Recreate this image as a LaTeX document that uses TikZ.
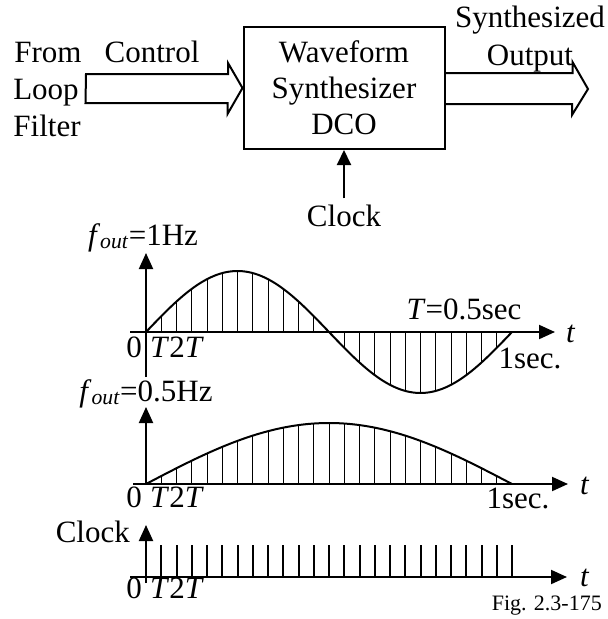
\documentclass[tikz,border=0pt]{standalone}
\usepackage{fontspec}
\setmainfont{Liberation Serif}
\usetikzlibrary{positioning,calc,arrows.meta}

\begin{document}
\begin{tikzpicture}[x=1pt,y=-1pt,
    every node/.style={font=\fontsize{31}{36}\selectfont,inner sep=1pt},
    block/.style={draw,line width=2pt,minimum width=201pt,minimum height=122pt,align=center},
    hollowarrow/.style={draw,line width=2pt,line join=miter},
    sigarrow/.style={line width=2pt,-{Triangle[length=15pt,width=14pt]}},
    axis/.style={line width=2pt,-{Triangle[length=16pt,width=14pt]}},
    wave/.style={line width=2pt},
    sampleline/.style={line width=1pt},
    pulse/.style={line width=2pt}]
    \useasboundingbox (0,0) rectangle (608,619);

    % block diagram
    \node[block] (dco) at (344,88) {Waveform\\Synthesizer\\DCO};
    \node[anchor=base] (from) at (48,62) {From};
    \node[anchor=base] (loop) at (46,99) {Loop};
    \node[anchor=base] (filter) at (47,136) {Filter};
    \node[anchor=base] (control) at (152,62) {Control};
    \node[anchor=base] (synth) at (530,27) {Synthesized};
    \node[anchor=base] (output) at (530,65) {Output};
    \node[anchor=base] (clk) at (344,226) {Clock};
    \coordinate (ctrltail) at (86,89);
    \coordinate (outtip) at (588,89);

    \draw[hollowarrow] (ctrltail) ++(0,-15) -- ++(142,0) -- ++(0,-11) -- (dco.west)
        -- ++(-15,26) -- ++(0,-11) -- ++(-142,0) -- cycle;
    \draw[hollowarrow] (dco.east) ++(0,-15) -- ++(127,0) -- ++(0,-11) -- (outtip)
        -- ++(-16,26) -- ++(0,-11) -- ++(-127,0);
    \draw[sigarrow] ([yshift=5pt]clk.north) -- (dco.south);

    % f_out = 1Hz
    \coordinate (o1) at (146,332);
    \node[anchor=base] (f1) at (143,245) {\textit{f}\textsubscript{\textit{out}}=1Hz};
    \draw[axis] ($(o1)+(0,45)$) -- ($(o1)+(0,-79)$);
    \draw[axis] ($(o1)+(-16,0)$) -- ($(o1)+(409,0)$);
    \draw[wave] plot[domain=0:366,samples=80,smooth] ({146+\x},{332-61*sin(\x/366*360)});
    \foreach \k in {1,...,23}
        \draw[sampleline] ({146+15.25*\k},332) -- ({146+15.25*\k},{332-61*sin(\k*15)});
    \node[anchor=base east] (zero1) at (143,357) {0};
    \node[anchor=base west] (tt1) at (149,357) {\textit{T}2\textit{T}};
    \node[anchor=base] (per1) at (464,319) {\textit{T}=0.5sec};
    \node[anchor=base] (sec1) at (530,368) {1sec.};
    \node[anchor=base west] (t1) at (565,342) {\textit{t}};

    % f_out = 0.5Hz
    \coordinate (o2) at (146,484);
    \node[anchor=base] (f2) at (146,401) {\textit{f}\textsubscript{\textit{out}}=0.5Hz};
    \draw[axis] (o2) -- ($(o2)+(0,-77)$);
    \draw[axis] ($(o2)+(-13,0)$) -- ($(o2)+(422,0)$);
    \draw[wave] plot[domain=0:366,samples=60,smooth] ({146+\x},{484-61*sin(\x/366*180)});
    \foreach \k in {1,...,23}
        \draw[sampleline] ({146+15.25*\k},484) -- ({146+15.25*\k},{484-61*sin(\k*7.5)});
    \node[anchor=base east] (zero2) at (143,507) {0};
    \node[anchor=base west] (tt2) at (149,507) {\textit{T}2\textit{T}};
    \node[anchor=base] (sec2) at (518,508) {1sec.};
    \node[anchor=base west] (t2) at (579,494) {\textit{t}};

    % clock
    \coordinate (o3) at (146,577);
    \node[anchor=base east] (clock) at (131,542) {Clock};
    \draw[axis] ($(o3)+(0,6)$) -- ($(o3)+(0,-52)$);
    \draw[axis] ($(o3)+(-16,0)$) -- ($(o3)+(421,0)$);
    \foreach \k in {1,...,24}
        \draw[pulse] ({146+15.25*\k},577) -- ++(0,-32);
    \node[anchor=base east] (zero3) at (143,598) {0};
    \node[anchor=base west] (tt3) at (149,598) {\textit{T}2\textit{T}};
    \node[anchor=base west] (t3) at (579,586) {\textit{t}};
    \node[anchor=base east,font=\fontsize{22}{26}\selectfont] (fig) at (603,610) {Fig. 2.3-175};
\end{tikzpicture}
\end{document}
